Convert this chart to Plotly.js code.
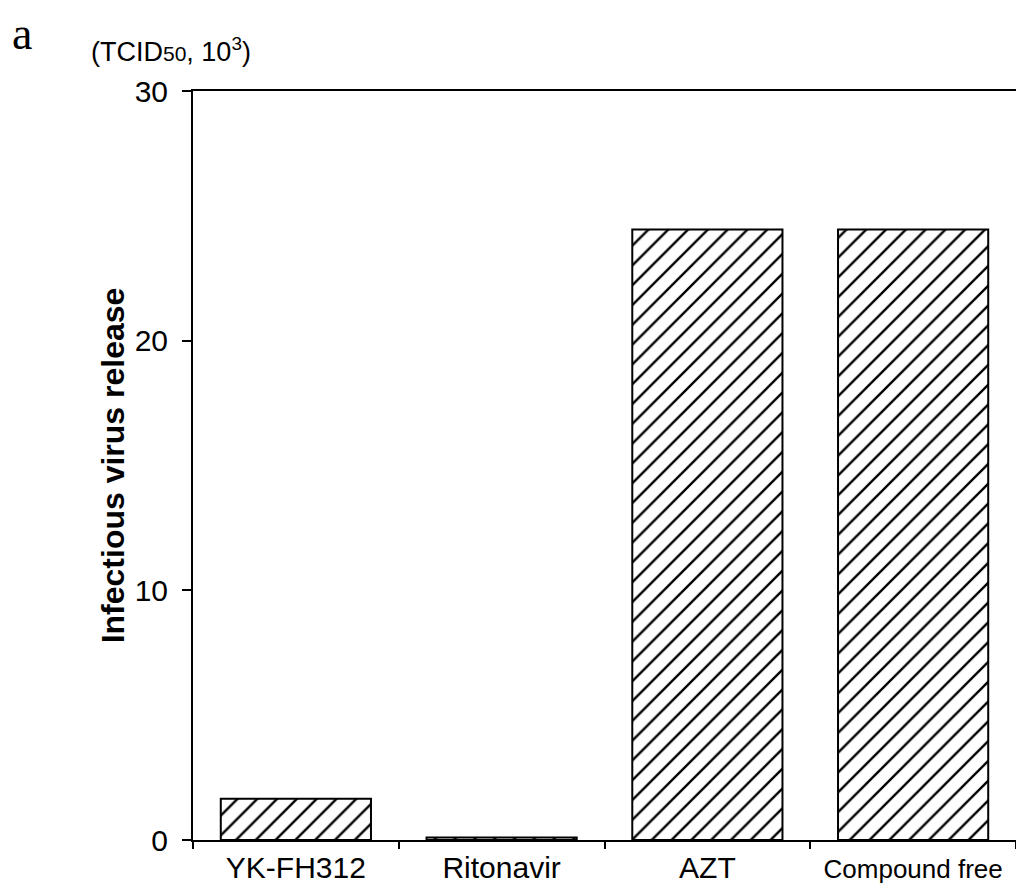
<!DOCTYPE html>
<html>
<head>
<meta charset="utf-8">
<script src="https://cdn.plot.ly/plotly-3.0.1.min.js"></script>
<style>html,body{margin:0;padding:0;background:#fff;}#chart{width:1016px;height:894px;}</style>
</head>
<body>
<div id="chart"></div>
<script>
const categories = ["YK-FH312", "Ritonavir", "AZT", "Compound free"];
const tickLabels = ["YK-FH312", "Ritonavir", "AZT", "<span style=\"font-size:26px\">Compound free</span>"];
const virusRelease = [1.65, 0.1, 24.45, 24.45];
const yTicks = [0, 10, 20, 30];

const trace = {
  type: "bar",
  x: categories,
  y: virusRelease,
  marker: {
    color: "#ffffff",
    line: {color: "#000000", width: 2},
    pattern: {shape: "/", fgcolor: "#000000", bgcolor: "#ffffff", size: 14, solidity: 0.17}
  },
  hoverinfo: "skip"
};

const layout = {
  width: 1016, height: 894,
  margin: {l: 193, r: 0, t: 91, b: 54},
  paper_bgcolor: "#ffffff", plot_bgcolor: "#ffffff",
  showlegend: false,
  bargap: 0.27,
  font: {family: "Liberation Sans, Arial, sans-serif", color: "#000"},
  xaxis: {
    type: "category",
    tickvals: categories,
    ticktext: tickLabels,
    showline: true, linecolor: "#000", linewidth: 2, mirror: true,
    ticks: "outside", tickson: "boundaries", ticklen: 7, tickwidth: 2, tickcolor: "#000",
    tickfont: {size: 30, color: "#000"},
    ticklabelstandoff: 0,
    showgrid: false, zeroline: false,
    fixedrange: true
  },
  yaxis: {
    range: [0, 30],
    tickvals: yTicks,
    ticktext: yTicks.map(String),
    showline: true, linecolor: "#000", linewidth: 2,
    ticks: "outside", ticklen: 9, tickwidth: 2, tickcolor: "#000",
    tickfont: {size: 30, color: "#000"},
    ticklabelstandoff: 8,
    showgrid: false, zeroline: false,
    title: {text: "<b>Infectious virus release</b>", font: {size: 32, color: "#000"}, standoff: 0},
    fixedrange: true
  },
  annotations: [
    {text: "a", xref: "paper", yref: "paper", x: 0, y: 1, xanchor: "left", yanchor: "middle",
     showarrow: false, font: {family: "Liberation Serif, Times New Roman, serif", size: 46, color: "#000"},
     xshift: -183, yshift: 58},
    {text: "(TCID<span style=\"font-size:21px\">50</span>, 10<sup>3</sup>)", xref: "paper", yref: "paper", x: 0, y: 1, xanchor: "left", yanchor: "middle",
     showarrow: false, font: {size: 27, color: "#000"}, xshift: -104, yshift: 41}
  ]
};

Plotly.newPlot("chart", [trace], layout, {displayModeBar: false, staticPlot: true});
</script>
</body>
</html>
